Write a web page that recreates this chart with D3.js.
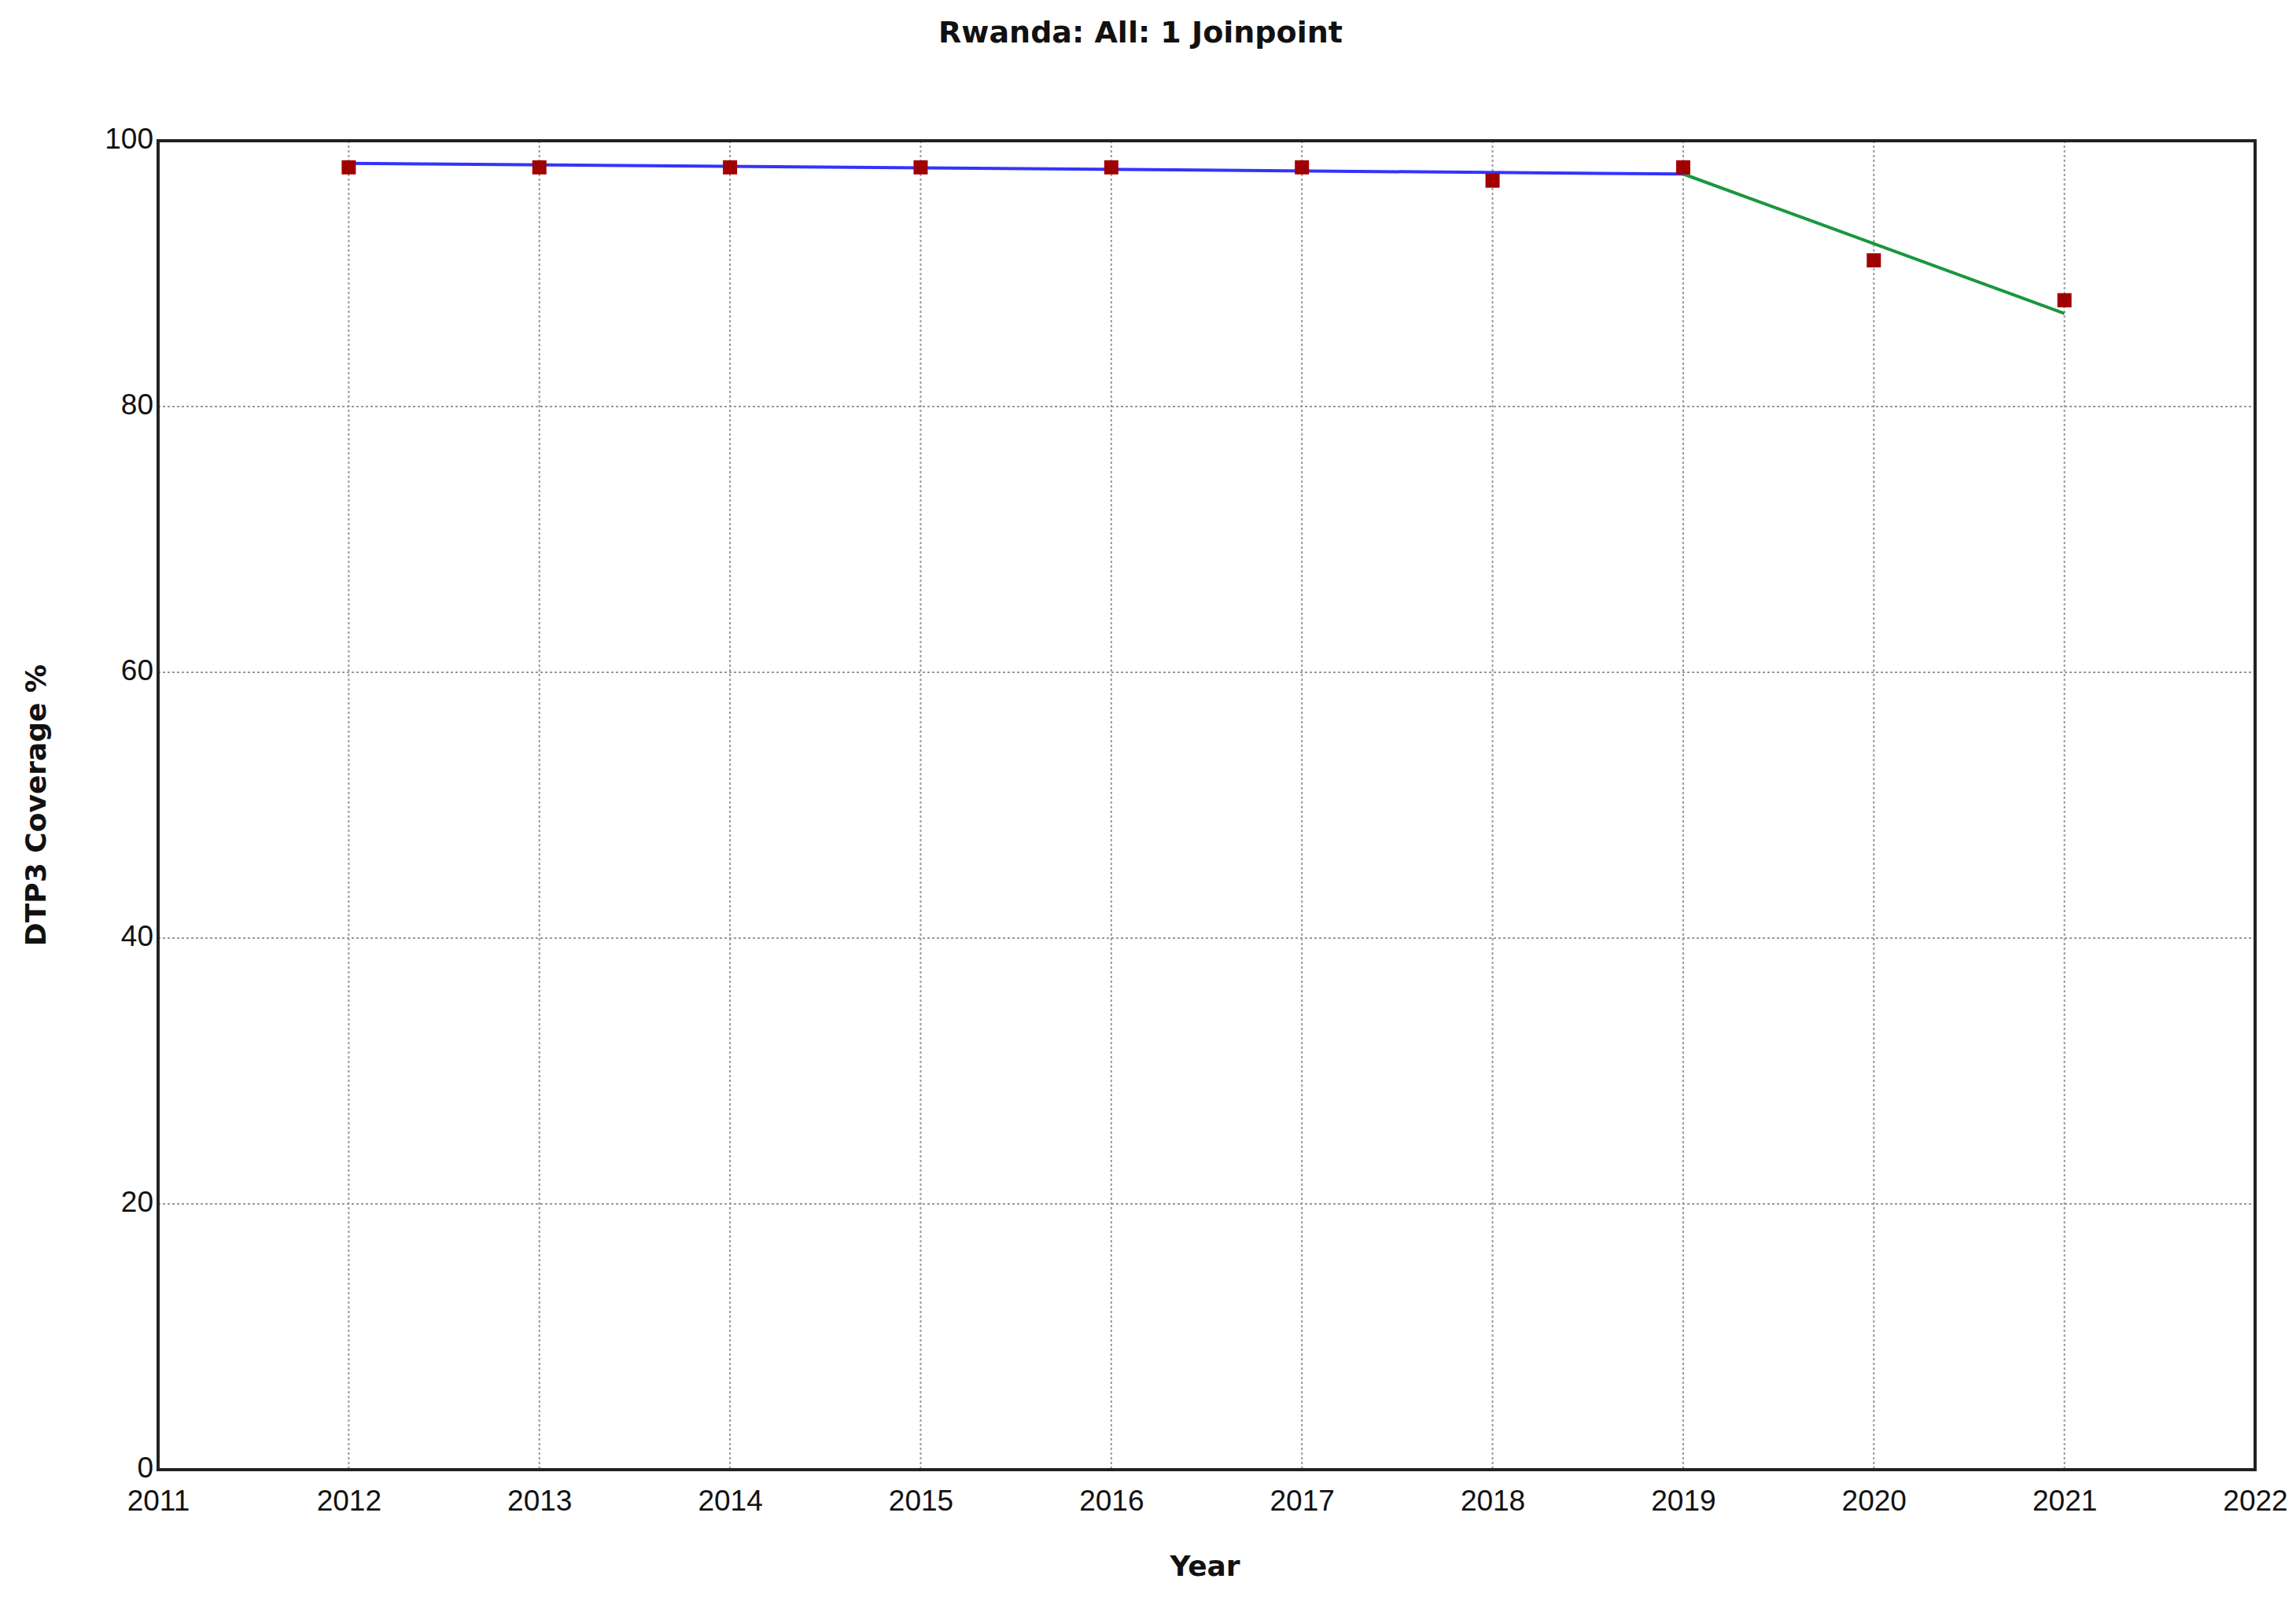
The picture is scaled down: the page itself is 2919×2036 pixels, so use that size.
<!DOCTYPE html>
<html><head><meta charset="utf-8">
<script src="https://d3js.org/d3.v7.min.js"></script>
<style>body{margin:0;background:#fff}</style></head>
<body><svg id="c" width="2919" height="2036"></svg>
<script>
const years = [2012,2013,2014,2015,2016,2017,2018,2019,2020,2021];
const observed = [98,98,98,98,98,98,97,98,91,88];
const seg1Years = [2012,2019];
const seg1Values = [98.3,97.5];
const seg2Years = [2019,2021];
const seg2Values = [97.5,87.0];
const xTicks = [2011,2012,2013,2014,2015,2016,2017,2018,2019,2020,2021,2022];
const yTicks = [0,20,40,60,80,100];

const svg = d3.select("#c");
const L=201,R=2867,T=179,B=1869;
const x = d3.scaleLinear().domain([2011,2022]).range([L,R]);
const y = d3.scaleLinear().domain([0,100]).range([B,T]);

svg.append("g").selectAll("line").data(xTicks.slice(1,-1)).join("line")
 .attr("x1",d=>x(d)).attr("x2",d=>x(d)).attr("y1",T).attr("y2",B)
 .attr("stroke","#999").attr("stroke-width",2).attr("stroke-dasharray","3,3");
svg.append("g").selectAll("line").data(yTicks.slice(1,-1)).join("line")
 .attr("y1",d=>y(d)).attr("y2",d=>y(d)).attr("x1",L).attr("x2",R)
 .attr("stroke","#999").attr("stroke-width",2).attr("stroke-dasharray","3,3");

svg.append("rect").attr("x",L).attr("y",T).attr("width",R-L).attr("height",B-T)
 .attr("fill","none").attr("stroke","#222").attr("stroke-width",4);

const xa = svg.append("g").attr("transform",`translate(0,${B})`)
 .call(d3.axisBottom(x).tickValues(xTicks).tickFormat(d3.format("d")).tickSize(0).tickPadding(26));
const ya = svg.append("g").attr("transform",`translate(${L},0)`)
 .call(d3.axisLeft(y).tickValues(yTicks).tickSize(0).tickPadding(6));
[xa,ya].forEach(a=>{a.select(".domain").remove();
 a.selectAll("text").attr("font-family","Liberation Sans, Arial").attr("font-size",37).attr("fill","#111");});
ya.selectAll("text").attr("dy","0.25em");

const line = d3.line().x(d=>x(d[0])).y(d=>y(d[1]));
svg.append("path").attr("d",line(d3.zip(seg1Years,seg1Values))).attr("fill","none")
 .attr("stroke","#3333ff").attr("stroke-width",4);
svg.append("path").attr("d",line(d3.zip(seg2Years,seg2Values))).attr("fill","none")
 .attr("stroke","#1a9640").attr("stroke-width",4);

svg.append("g").selectAll("rect").data(d3.zip(years,observed)).join("rect")
 .attr("x",d=>x(d[0])-9).attr("y",d=>y(d[1])-9).attr("width",18).attr("height",18)
 .attr("fill","#a00000");

svg.append("text").attr("x",1450).attr("y",54).attr("text-anchor","middle")
 .attr("font-family","DejaVu Sans").attr("font-weight","bold").attr("font-size",38)
 .attr("fill","#111").text("Rwanda: All: 1 Joinpoint");
svg.append("text").attr("x",1532).attr("y",2004).attr("text-anchor","middle")
 .attr("font-family","DejaVu Sans").attr("font-weight","bold").attr("font-size",36)
 .attr("fill","#111").text("Year");
svg.append("text").attr("transform","translate(58,1024) rotate(-90)").attr("text-anchor","middle")
 .attr("font-family","DejaVu Sans").attr("font-weight","bold").attr("font-size",36)
 .attr("fill","#111").text("DTP3 Coverage %");
</script></body></html>
